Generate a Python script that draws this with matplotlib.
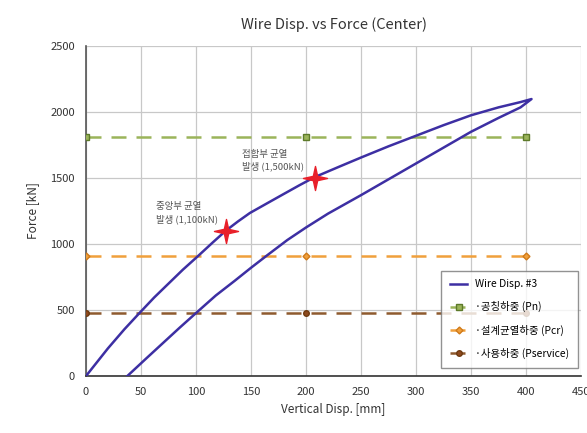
import matplotlib
matplotlib.use('Agg')
import matplotlib.pyplot as plt
from matplotlib.path import Path

plt.rcParams['font.family'] = ['Noto Sans CJK KR', 'DejaVu Sans']

# 하중-변위 곡선
load_x = [0, 10, 20, 35, 48.6, 62, 75, 88, 102, 115, 127, 138, 149, 165, 180, 194,
          208, 230, 250, 275, 300, 325, 350, 375, 395, 405]
load_y = [0, 105, 210, 355, 477, 595, 700, 805, 910, 1010, 1100, 1170, 1235, 1310,
          1380, 1445, 1507, 1585, 1655, 1740, 1820, 1900, 1975, 2035, 2075, 2098]
reload_x = [37.6, 55, 70, 85, 100, 118, 135, 150, 164, 183, 200, 220, 250, 275, 300,
            325, 350, 375, 395, 405]
reload_y = [0, 135, 250, 365, 477, 610, 720, 820, 910, 1030, 1125, 1230, 1370, 1490,
            1610, 1730, 1850, 1955, 2035, 2098]

ref_x = [0, 200, 400]
Pn = 1810
Pcr = 910
Pservice = 477

stars_x = [127, 208]
stars_y = [1100, 1500]
notes = ['중앙부 균열\n발생 (1,100kN)', '접합부 균열\n발생 (1,500kN)']
notes_x = [64, 142]
notes_y = [1150, 1550]

# 가는 4각 별 모양
k = 0.18
star = Path([(0, 1), (k, k), (1, 0), (k, -k), (0, -1), (-k, -k), (-1, 0), (-k, k), (0, 1)],
            [Path.MOVETO] + [Path.LINETO] * 7 + [Path.CLOSEPOLY])

fig = plt.figure(figsize=(5.87, 4.33), dpi=100)
ax = fig.add_axes([0.1465, 0.1316, 0.8433, 0.7622])

ax.plot(load_x + reload_x[::-1], load_y + reload_y[::-1], color='#3d2fa3', lw=1.8,
        label='Wire Disp. #3', zorder=5)
ax.plot(ref_x, [Pn] * 3, color='#9bb45a', ls=(0, (6, 4)), lw=1.8, marker='s', ms=4,
        mfc='#9bb45a', mec='#5d7a2a', label='·공칭하중 (Pn)', zorder=3)
ax.plot(ref_x, [Pcr] * 3, color='#f0a03c', ls=(0, (6, 4)), lw=1.8, marker='D', ms=3.5,
        mfc='#f0a03c', mec='#d07a1a', label='·설계균열하중 (Pcr)', zorder=3)
ax.plot(ref_x, [Pservice] * 3, color='#8e5a2e', ls=(0, (6, 4)), lw=1.8, marker='o', ms=4,
        mfc='#8e4a1e', mec='#6e3a10', label='·사용하중 (Pservice)', zorder=3)

ax.scatter(stars_x, stars_y, marker=star, s=300, color='#e8202a', zorder=6)
for t, tx, ty in zip(notes, notes_x, notes_y):
    ax.text(tx, ty, t, fontsize=6.8, color='#555555', va='bottom', linespacing=1.4)

ax.set_xlim(0, 450)
ax.set_ylim(0, 2500)
ax.set_xticks(range(0, 451, 50))
ax.set_yticks(range(0, 2501, 500))
ax.grid(True, color='#c8c8c8', lw=0.9)
ax.set_axisbelow(True)
for s in ['top', 'right']:
    ax.spines[s].set_visible(False)
ax.spines['left'].set_color('#555555')
ax.spines['bottom'].set_color('#333333')
ax.spines['left'].set_linewidth(1.2)
ax.spines['bottom'].set_linewidth(1.2)
ax.tick_params(length=0, labelsize=8, colors='#333333', pad=8)

ax.set_title('Wire Disp. vs Force (Center)', fontsize=10.5, color='#333333', pad=12)
ax.set_xlabel('Vertical Disp. [mm]', fontsize=8.5, color='#333333')
ax.set_ylabel('Force [kN]', fontsize=8.5, color='#333333', labelpad=8)

leg = ax.legend(loc='lower right', bbox_to_anchor=(1.005, 0.01), fontsize=7.5,
                frameon=True, fancybox=False, edgecolor='#777777', handlelength=1.6,
                labelspacing=1.15, borderpad=0.85)
leg.get_frame().set_linewidth(1.0)

fig.savefig('out.png', dpi=100)
